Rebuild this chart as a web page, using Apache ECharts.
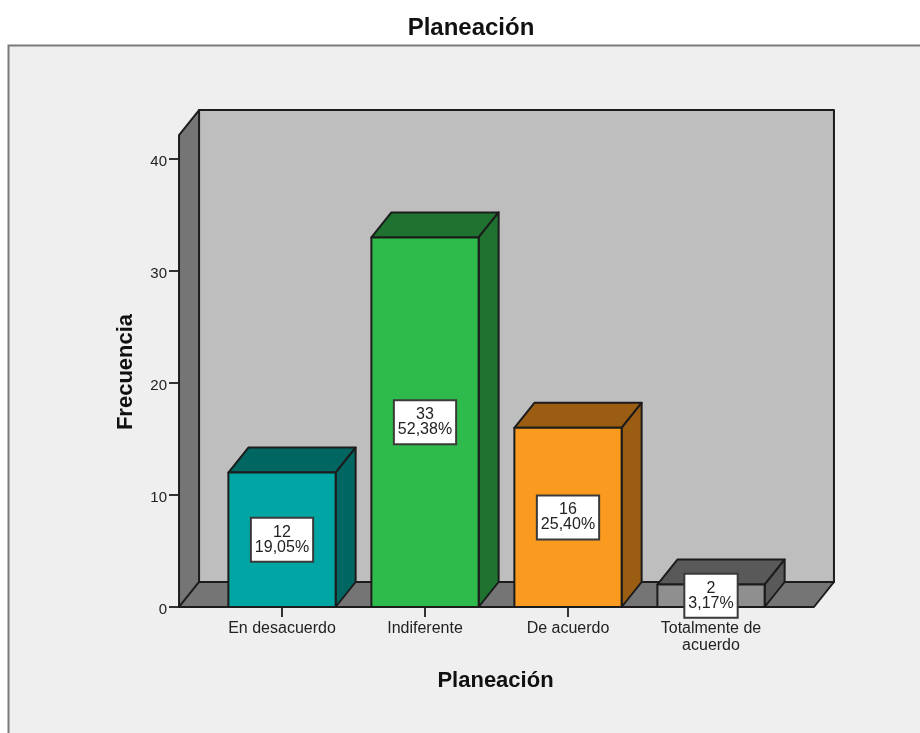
<!DOCTYPE html>
<html><head><meta charset="utf-8">
<style>html,body{margin:0;padding:0;background:#fff}#c{width:920px;height:733px}</style>
<script src="https://cdn.jsdelivr.net/npm/echarts@6/dist/echarts.min.js"></script>
</head><body><div id="c"></div>
<script>
const chartTitle = 'Planeación';
const categories = ['En desacuerdo', 'Indiferente', 'De acuerdo', 'Totalmente de\nacuerdo'];
const counts = [12, 33, 16, 2];
const percents = ['19,05%', '52,38%', '25,40%', '3,17%'];
const faceColors = ['#00A6A3', '#2FBA4C', '#FA9A1E', '#8F8F8F'];
const sideColors = ['#006661', '#1F7230', '#9A5D12', '#595959'];
const wallTop = 42.14;
const FONT = '"Liberation Sans", Arial, sans-serif';
const EDGE = '#1c1c1c';
const DX = 20, DY = 25;

const chart = echarts.init(document.getElementById('c'), null, {renderer: 'canvas'});

function poly(points, fill) {
  return {type: 'polygon', shape: {points}, style: {fill, stroke: EDGE, lineWidth: 2, lineJoin: 'round'}};
}
function renderWalls(params, api) {
  const band = api.size([1, 0])[0];
  const y0 = api.coord([0, 0])[1];
  const yT = api.coord([0, wallTop])[1];
  const xL = api.coord([0, 0])[0] - 0.72 * band;
  const xR = api.coord([categories.length - 1, 0])[0] + 0.72 * band;
  return {type: 'group', children: [
    poly([[xL + DX, yT - DY], [xR + DX, yT - DY], [xR + DX, y0 - DY], [xL + DX, y0 - DY]], '#BEBEBE'),
    poly([[xL, y0], [xL + DX, y0 - DY], [xL + DX, yT - DY], [xL, yT]], '#757575'),
    poly([[xL, y0], [xL + DX, y0 - DY], [xR + DX, y0 - DY], [xR, y0]], '#757575')
  ]};
}
function renderBar(params, api) {
  const i = api.value(0), v = api.value(1);
  const c = api.coord([i, v]), b = api.coord([i, 0]);
  const w = api.size([1, 0])[0] * 0.75;
  const l = c[0] - w / 2, r = c[0] + w / 2, t = c[1], y0 = b[1];
  return {type: 'group', children: [
    poly([[l, t], [l + DX, t - DY], [r + DX, t - DY], [r, t]], sideColors[i]),
    poly([[r, t], [r + DX, t - DY], [r + DX, y0 - DY], [r, y0]], sideColors[i]),
    poly([[l, t], [r, t], [r, y0], [l, y0]], faceColors[i])
  ]};
}
function renderLabel(params, api) {
  const i = api.value(0), v = api.value(1);
  const c = api.coord([i, v / 2]);
  return {type: 'text', x: c[0], y: c[1], style: {
    text: v + '\n' + percents[i], font: '16px ' + FONT, fill: '#222',
    align: 'center', verticalAlign: 'middle', lineHeight: 15,
    backgroundColor: '#fff', borderColor: '#3a3a3a', borderWidth: 2, padding: [6, 3, 6, 3]
  }};
}
const pts = categories.map((_, i) => [i, counts[i]]);
chart.setOption({
  animation: false,
  backgroundColor: '#fff',
  title: {text: chartTitle, left: 466, top: 11, textAlign: 'center',
    textStyle: {fontFamily: FONT, fontSize: 24, fontWeight: 'bold', color: '#111'}},
  graphic: [{type: 'rect', z: -10, shape: {x: 8.5, y: 45.5, width: 930, height: 720},
    style: {fill: '#EFEFEF', stroke: '#7a7a7a', lineWidth: 2}}],
  grid: {left: 210.5, width: 572, top: 159, height: 448, containLabel: false},
  xAxis: {type: 'category', data: categories,
    name: chartTitle, nameLocation: 'middle', nameGap: 63,
    nameTextStyle: {fontFamily: FONT, fontSize: 22, fontWeight: 'bold', color: '#111', padding: [0, 2, 0, 0]},
    axisLine: {show: false},
    axisTick: {show: true, alignWithLabel: true, length: 10, lineStyle: {color: '#333', width: 2}},
    axisLabel: {fontFamily: FONT, fontSize: 16, color: '#222', margin: 13, lineHeight: 17, interval: 0},
    splitLine: {show: false}},
  yAxis: {type: 'value', min: 0, max: 40, interval: 10, offset: 31.5,
    name: 'Frecuencia', nameLocation: 'middle', nameGap: 42,
    nameTextStyle: {fontFamily: FONT, fontSize: 22, fontWeight: 'bold', color: '#111', padding: [0, 0, 0, 22]},
    axisLine: {show: false},
    axisTick: {show: true, length: 10, lineStyle: {color: '#333', width: 2}},
    axisLabel: {fontFamily: FONT, fontSize: 15, color: '#222', margin: 12, verticalAlign: 'top', lineHeight: 5},
    splitLine: {show: false}},
  series: [
    {type: 'custom', name: 'walls', z: 1, silent: true, renderItem: renderWalls, data: [[0, 0]], encode: {x: 0, y: 1}},
    {type: 'custom', name: 'Frecuencia', z: 3, renderItem: renderBar, data: pts, encode: {x: 0, y: 1}},
    {type: 'custom', name: 'labels', z: 5, silent: true, renderItem: renderLabel, data: pts, encode: {x: 0, y: 1}}
  ]
});
</script></body></html>
